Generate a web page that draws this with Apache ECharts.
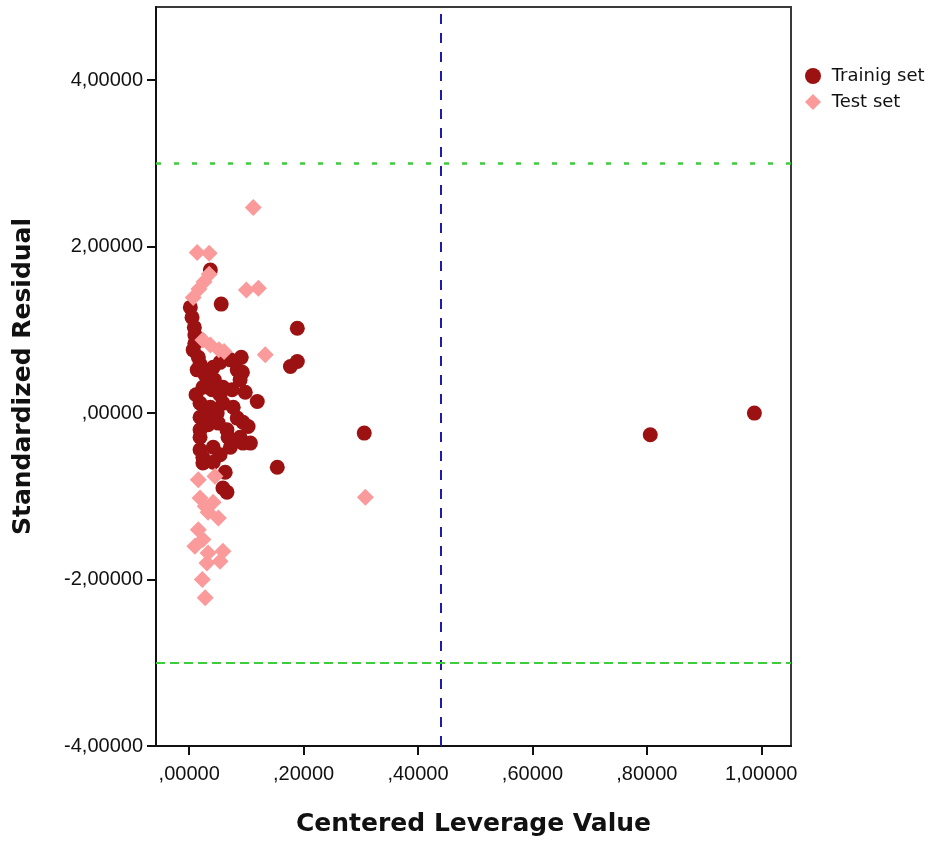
<!DOCTYPE html>
<html>
<head>
<meta charset="utf-8">
<script src="https://cdn.jsdelivr.net/npm/echarts@6/dist/echarts.min.js"></script>
<style>
  html, body { margin: 0; padding: 0; background: #fff; }
  #chart { width: 936px; height: 843px; }
</style>
</head>
<body>
<div id="chart"></div>
<script>
// Leverage (x) vs standardized residual (y) for each compound
const trainingSet = [
  [0.037, 1.72], [0.056, 1.31], [0.189, 1.02], [0.189, 0.62], [0.177, 0.56],
  [0.119, 0.14], [0.306, -0.24], [0.806, -0.26], [0.988, 0.00], [0.154, -0.65],
  [0.002, 1.27], [0.005, 1.15], [0.009, 1.03], [0.010, 0.94], [0.007, 0.76],
  [0.016, 0.67], [0.019, 0.59], [0.014, 0.52], [0.042, 0.55], [0.054, 0.61],
  [0.072, 0.64], [0.091, 0.67], [0.084, 0.52], [0.093, 0.49], [0.089, 0.40],
  [0.024, 0.31], [0.059, 0.31], [0.040, 0.28], [0.054, 0.22], [0.019, 0.12],
  [0.037, 0.07], [0.059, 0.12], [0.077, 0.07], [0.019, -0.05], [0.049, 0.00],
  [0.031, 0.00], [0.084, -0.06], [0.094, -0.11], [0.019, -0.20], [0.066, -0.20],
  [0.019, -0.29], [0.068, -0.29], [0.089, -0.29], [0.094, -0.36], [0.107, -0.36],
  [0.019, -0.44], [0.042, -0.41], [0.024, -0.60], [0.042, -0.59], [0.063, -0.71],
  [0.059, -0.90], [0.066, -0.95], [0.024, -0.53], [0.012, 0.22], [0.044, 0.40],
  [0.028, 0.46], [0.075, 0.28], [0.051, -0.12], [0.033, -0.14], [0.072, -0.41],
  [0.054, -0.50], [0.010, 0.84], [0.019, 0.88], [0.098, 0.25], [0.103, -0.16]
];

const testSet = [
  [0.112, 2.47], [0.014, 1.93], [0.035, 1.92], [0.100, 1.48], [0.121, 1.50],
  [0.133, 0.70], [0.308, -1.01], [0.007, 1.39], [0.017, 1.49], [0.026, 1.58],
  [0.035, 1.67], [0.024, 0.88], [0.037, 0.82], [0.052, 0.76], [0.061, 0.74],
  [0.016, -0.80], [0.045, -0.76], [0.019, -1.02], [0.028, -1.12], [0.042, -1.07],
  [0.051, -1.26], [0.016, -1.40], [0.024, -1.52], [0.010, -1.60], [0.033, -1.68],
  [0.059, -1.66], [0.054, -1.78], [0.031, -1.80], [0.023, -2.00], [0.028, -2.22],
  [0.033, -1.19]
];

// Tick positions shown on each axis
const xTicks = [0, 0.2, 0.4, 0.6, 0.8, 1.0];
const yTicks = [-4, -2, 0, 2, 4];

// Warning leverage h* and residual limits of ±3
const leverageLimit = 0.44;
const residualUpper = 3;
const residualLower = -3;

// Comma decimal format with the leading zero dropped: 0.2 -> ",20000"
function fmt(v) {
  let s = Math.abs(v).toFixed(5).replace('.', ',');
  if (s.startsWith('0,')) s = s.slice(1);
  return (v < 0 ? '-' : '') + s;
}

const FONT = '"Liberation Sans", Arial, sans-serif';
const TITLE_FONT = '"DejaVu Sans", sans-serif';

const chart = echarts.init(document.getElementById('chart'), null, { renderer: 'canvas' });

chart.setOption({
  animation: false,
  backgroundColor: '#ffffff',
  grid: {
    left: 156, right: 145, top: 7, bottom: 97,
    show: true, borderColor: '#3a3a3a', borderWidth: 2, backgroundColor: 'transparent'
  },
  legend: {
    orient: 'vertical',
    left: 800, top: 62,
    itemWidth: 16, itemHeight: 16, itemGap: 8,
    formatter: ' {name}',
    textStyle: { fontFamily: TITLE_FONT, fontSize: 18, color: '#111' },
    data: [
      { name: 'Trainig set', icon: 'circle' },
      { name: 'Test set', icon: 'diamond' }
    ]
  },
  xAxis: {
    type: 'value',
    min: -0.058, max: 1.052,
    name: 'Centered Leverage Value',
    nameLocation: 'middle',
    nameGap: 66,
    nameTextStyle: { fontFamily: TITLE_FONT, fontSize: 25, fontWeight: 'bold', color: '#111' },
    axisLine: { onZero: false, lineStyle: { color: '#111', width: 2 } },
    axisTick: { show: true, length: 9, customValues: xTicks, lineStyle: { color: '#111', width: 2 } },
    axisLabel: {
      customValues: xTicks, margin: 18,
      fontFamily: FONT, fontSize: 20, color: '#111',
      formatter: fmt
    },
    splitLine: { show: false }
  },
  yAxis: {
    type: 'value',
    min: -4, max: 4.88,
    name: 'Standardized Residual',
    nameLocation: 'middle',
    nameGap: 120,
    nameTextStyle: { fontFamily: TITLE_FONT, fontSize: 25, fontWeight: 'bold', color: '#111' },
    axisLine: { onZero: false, lineStyle: { color: '#111', width: 2 } },
    axisTick: { show: true, length: 9, customValues: yTicks, lineStyle: { color: '#111', width: 2 } },
    axisLabel: {
      customValues: yTicks, margin: 13,
      fontFamily: FONT, fontSize: 20, color: '#111',
      formatter: fmt
    },
    splitLine: { show: false }
  },
  series: [
    {
      name: 'Trainig set',
      type: 'scatter',
      symbol: 'circle',
      symbolSize: 15,
      itemStyle: { color: '#9c1212', opacity: 1 },
      data: trainingSet,
      z: 3,
      markLine: {
        silent: true,
        symbol: 'none',
        label: { show: false },
        data: [
          { xAxis: leverageLimit, lineStyle: { color: '#1c1ca8', width: 2, type: [10, 9] } },
          { yAxis: residualUpper, lineStyle: { color: '#3ccc3c', width: 2.5, type: [5, 13] } },
          { yAxis: residualLower, lineStyle: { color: '#3ccc3c', width: 2, type: [9, 5] } }
        ]
      }
    },
    {
      name: 'Test set',
      type: 'scatter',
      symbol: 'diamond',
      symbolSize: 17,
      itemStyle: { color: '#fb9a9a', opacity: 1 },
      data: testSet,
      z: 4
    }
  ]
});
</script>
</body>
</html>
